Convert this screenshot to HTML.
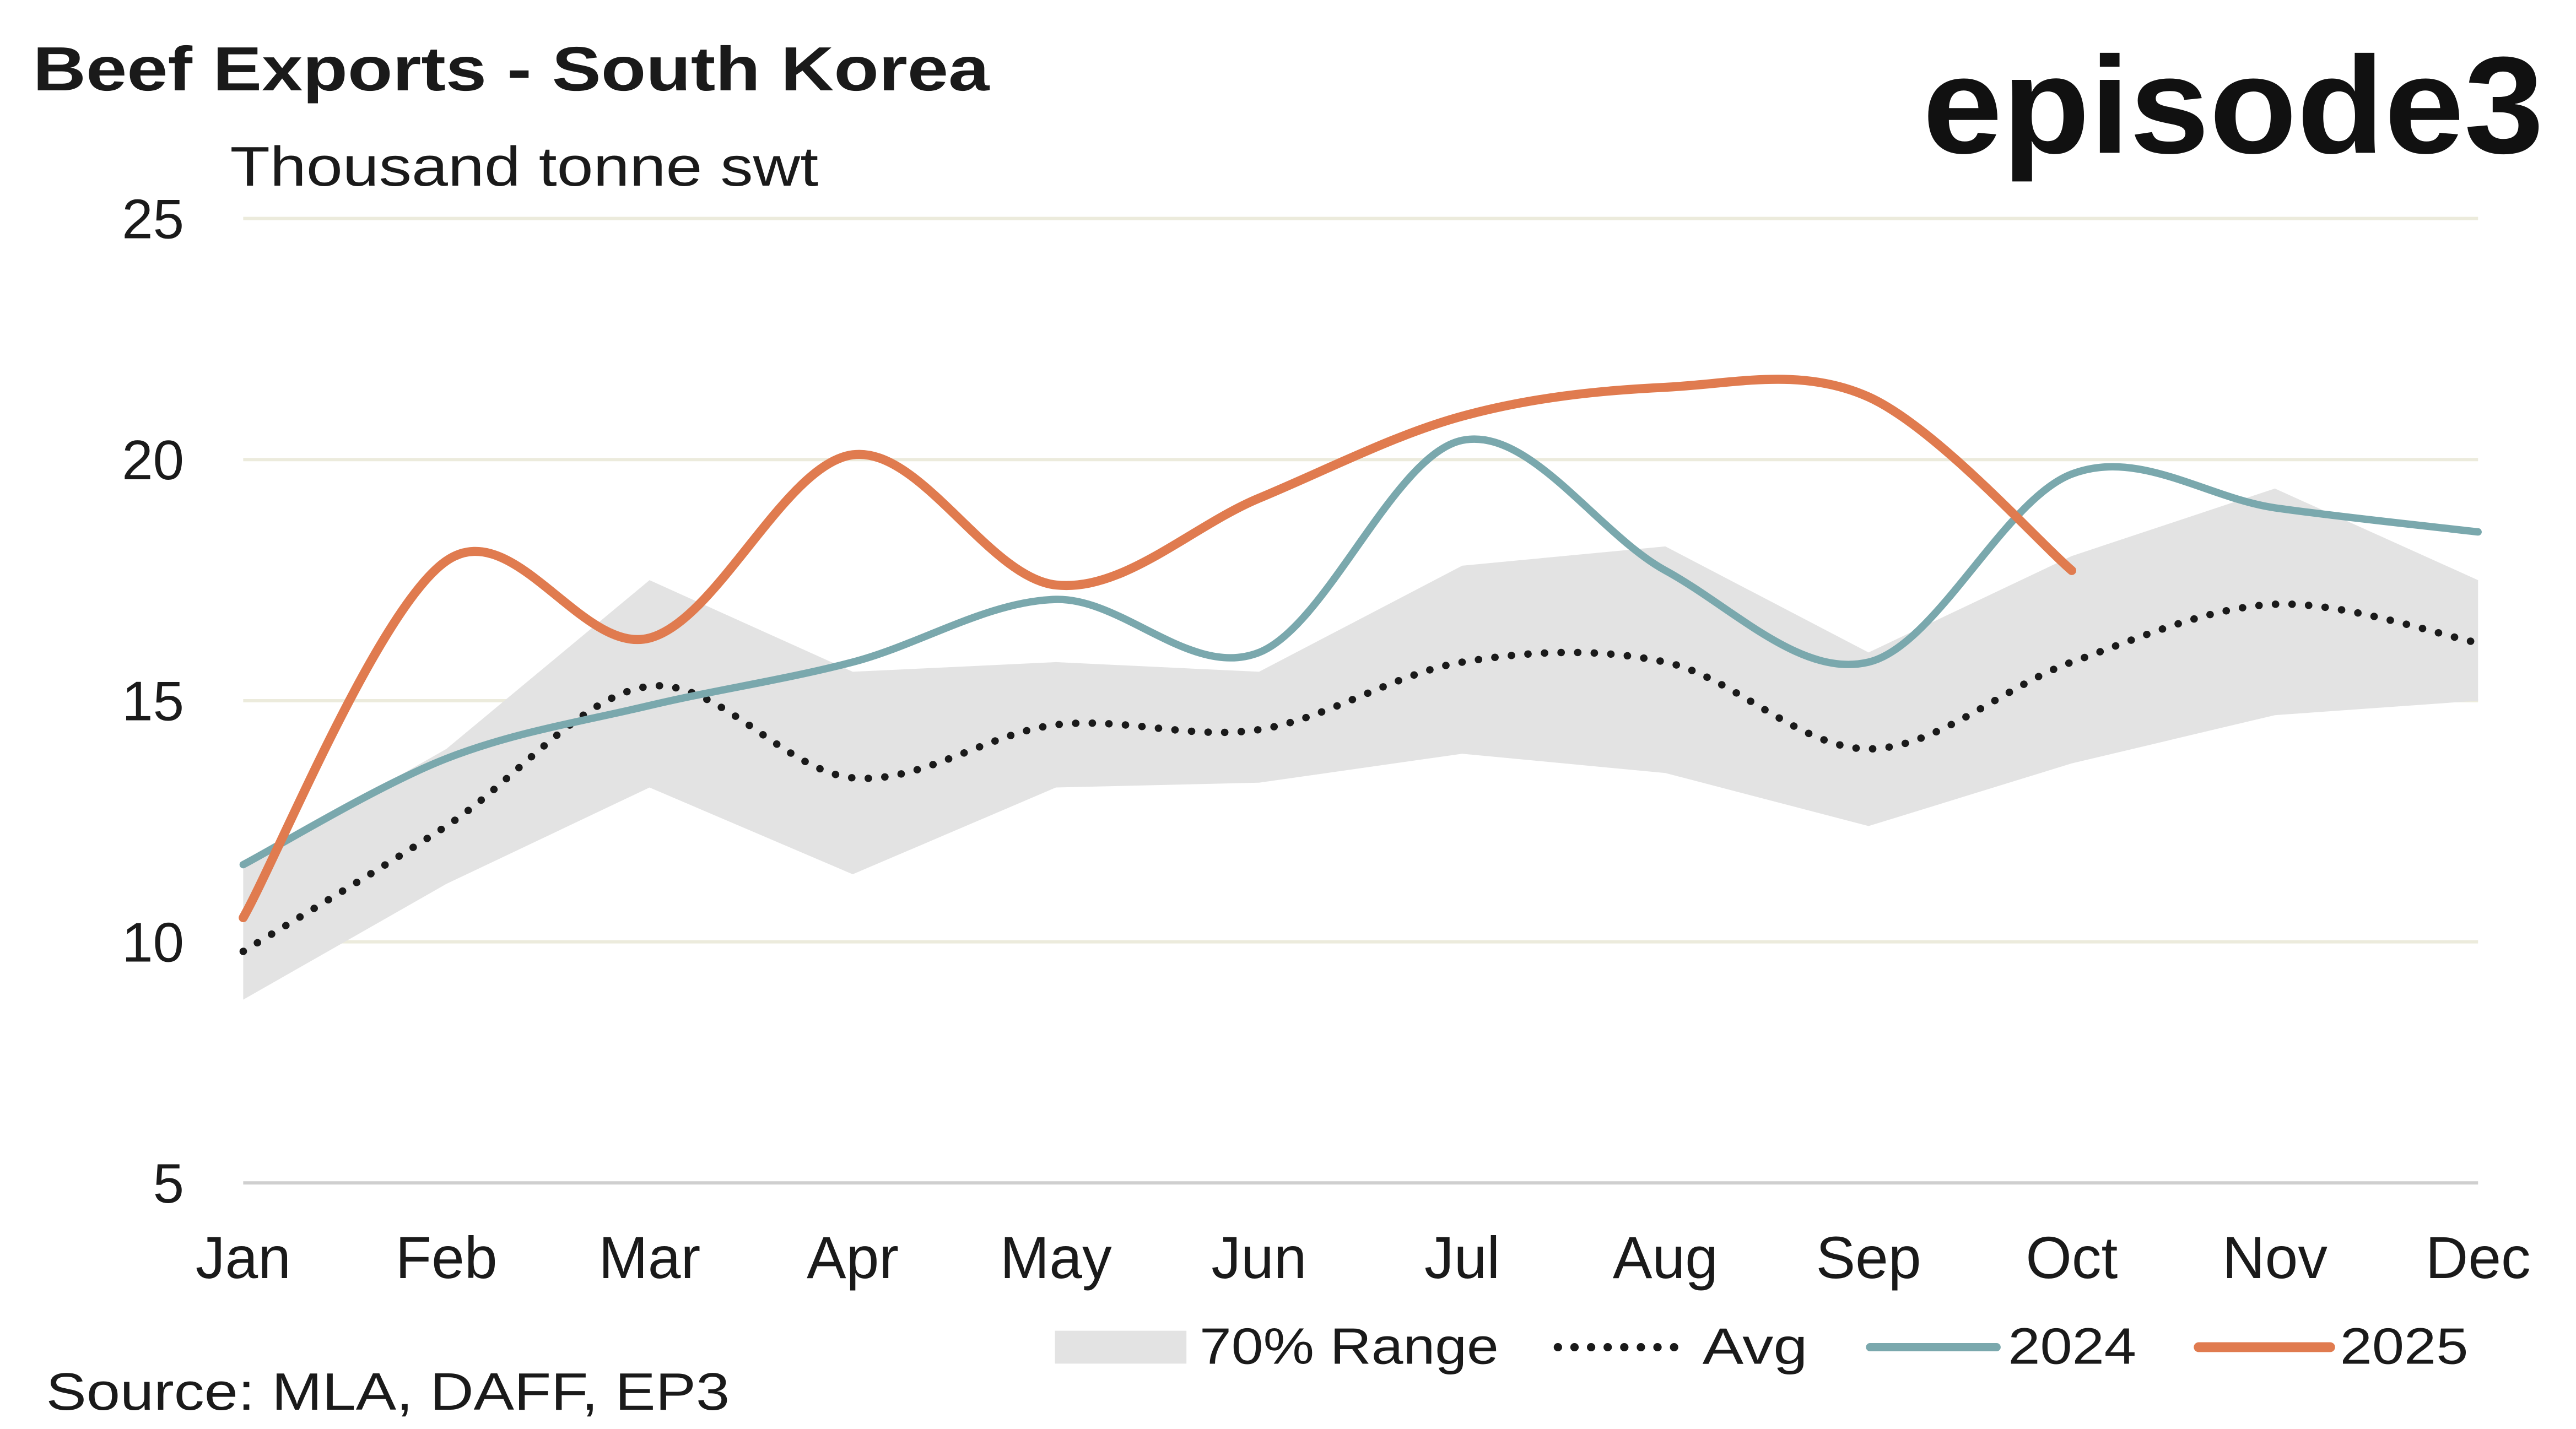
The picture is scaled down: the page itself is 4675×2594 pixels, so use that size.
<!DOCTYPE html>
<html><head><meta charset="utf-8"><style>
html,body{margin:0;padding:0;background:#fff;}
svg{display:block;font-family:"Liberation Sans",sans-serif;}
</style></head><body>
<svg id="chart" width="4675" height="2594" viewBox="0 0 1567.6 869.8" xmlns="http://www.w3.org/2000/svg">
<rect width="1567.6" height="869.8" fill="#fff"/>
<text x="20" y="55" font-size="38" font-weight="bold" fill="#1a1a1a" textLength="582" lengthAdjust="spacingAndGlyphs">Beef Exports - South Korea</text>
<text x="140" y="113" font-size="34" fill="#1a1a1a" textLength="358" lengthAdjust="spacingAndGlyphs">Thousand tonne swt</text>
<text x="1170" y="93" font-size="84" font-weight="bold" fill="#111" textLength="378" lengthAdjust="spacingAndGlyphs">episode3</text>
<g id="grid"></g>
<g id="band"></g>
<g id="lines"></g>
<g id="xticks"></g>
<g>
 <rect x="642" y="810" width="80" height="20" fill="#e3e3e3"/>
 <text x="730" y="830" font-size="31" fill="#1a1a1a" textLength="182" lengthAdjust="spacingAndGlyphs">70% Range</text>
 <line x1="948" y1="820" x2="1020" y2="820" stroke="#1a1a1a" stroke-width="5" stroke-linecap="round" stroke-dasharray="0.1 10"/>
 <text x="1036" y="830" font-size="31" fill="#1a1a1a" textLength="64" lengthAdjust="spacingAndGlyphs">Avg</text>
 <line x1="1138" y1="820" x2="1215" y2="820" stroke="#7aa8ad" stroke-width="5" stroke-linecap="round"/>
 <text x="1222" y="830" font-size="31" fill="#1a1a1a" textLength="78" lengthAdjust="spacingAndGlyphs">2024</text>
 <line x1="1338" y1="820" x2="1418" y2="820" stroke="#e07b4f" stroke-width="6" stroke-linecap="round"/>
 <text x="1424" y="830" font-size="31" fill="#1a1a1a" textLength="78" lengthAdjust="spacingAndGlyphs">2025</text>
</g>
<text x="28" y="858" font-size="32" fill="#1a1a1a" textLength="416" lengthAdjust="spacingAndGlyphs">Source: MLA, DAFF, EP3</text>
</svg>
<script>
const months=["Jan","Feb","Mar","Apr","May","Jun","Jul","Aug","Sep","Oct","Nov","Dec"];
const yTicks=[5,10,15,20,25];
const rangeUpper=[11.6,14.0,17.5,15.6,15.8,15.6,17.8,18.2,16.0,18.0,19.4,17.5];
const rangeLower=[8.8,11.2,13.2,11.4,13.2,13.3,13.9,13.5,12.4,13.7,14.7,15.0];
const avgValues=[9.8,12.4,15.3,13.4,14.5,14.4,15.8,15.8,14.0,15.8,17.0,16.2];
const values2024=[11.6,13.8,14.9,15.8,17.1,16.0,20.4,17.7,15.8,19.7,19.0,18.5];
const values2025=[10.5,17.9,16.3,20.1,17.4,19.2,20.9,21.5,21.3,17.7];
const NS="http://www.w3.org/2000/svg";
const x0=148,x1=1508,yTop=133,yBot=720;
const xs=i=>x0+i*(x1-x0)/(months.length-1);
const ys=v=>yBot-(v-5)*(yBot-yTop)/20;
function mk(t,a,p){const e=document.createElementNS(NS,t);for(const k in a)e.setAttribute(k,a[k]);p.appendChild(e);return e;}
const grid=document.getElementById('grid');
yTicks.forEach(v=>{
 const l=mk('line',{x1:x0,x2:x1,y1:ys(v),y2:ys(v),stroke:v===5?'#cfcfcf':'#ecebdc','stroke-width':2},grid);
 
 
 const t=mk('text',{x:112,y:ys(v)+12,'font-size':34,fill:'#1a1a1a','text-anchor':'end'},grid);
 t.textContent=v;
 
 
});
const xt=document.getElementById('xticks');
months.forEach((m,i)=>{
 const t=mk('text',{x:xs(i),y:778,'font-size':36,fill:'#1a1a1a','text-anchor':'middle'},xt);
 t.textContent=m;
 
 
});
let pts=rangeUpper.map((v,i)=>xs(i)+','+ys(v));
for(let i=rangeLower.length-1;i>=0;i--)pts.push(xs(i)+','+ys(rangeLower[i]));
const poly=mk('polygon',{points:pts.join(' '),fill:'#e3e3e3'},document.getElementById('band'));


function smooth(vals){
 const p=vals.map((v,i)=>[xs(i),ys(v)]);
 let d='M'+p[0][0]+','+p[0][1];
 for(let i=0;i<p.length-1;i++){
  const a=p[i-1]||p[i],b=p[i],c=p[i+1],e=p[i+2]||c;
  const c1=[b[0]+(c[0]-a[0])/6,b[1]+(c[1]-a[1])/6];
  const c2=[c[0]-(e[0]-b[0])/6,c[1]-(e[1]-b[1])/6];
  d+=' C'+c1+' '+c2+' '+c;
 }
 return d;
}
const lines=document.getElementById('lines');
const av=mk('path',{d:smooth(avgValues),fill:'none',stroke:'#1a1a1a','stroke-width':4.5,'stroke-linecap':'round','stroke-dasharray':'0.1 10'},lines);


const l24=mk('path',{d:smooth(values2024),fill:'none',stroke:'#7aa8ad','stroke-width':4.5,'stroke-linecap':'round'},lines);


const l25=mk('path',{d:smooth(values2025),fill:'none',stroke:'#e07b4f','stroke-width':5.5,'stroke-linecap':'round'},lines);


</script>
</body></html>
